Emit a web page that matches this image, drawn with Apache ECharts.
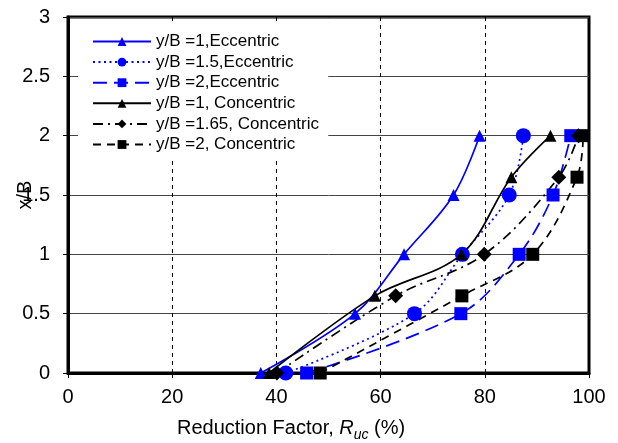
<!DOCTYPE html>
<html>
<head>
<meta charset="utf-8">
<script src="https://cdn.jsdelivr.net/npm/echarts@6/dist/echarts.min.js"></script>
<style>html,body{margin:0;padding:0;background:#fff}#c{width:618px;height:443px}</style>
</head>
<body>
<div id="c"></div>
<script>
const eccY = [0, 0.5, 1, 1.5, 2];
const ecc1X = [37, 55.1, 64.5, 74, 79];
const ecc15X = [41.8, 66.5, 75.7, 84.7, 87.4];
const ecc2X = [45.8, 75.4, 86.6, 93.1, 96.5];
const conY = [0, 0.65, 1, 1.65, 2];
const con1X = [38.6, 58.9, 75.5, 85.1, 92.6];
const con165X = [40.1, 62.9, 79.9, 94.2, 98];
const con2X = [48.4, 75.6, 89.2, 97.7, 98.9];
const xTicks = [0, 20, 40, 60, 80, 100];
const yTicks = [0, 0.5, 1, 1.5, 2, 2.5, 3];
const names = ['y/B =1,Eccentric', 'y/B =1.5,Eccentric', 'y/B =2,Eccentric',
  'y/B =1, Concentric', 'y/B =1.65, Concentric', 'y/B =2, Concentric'];

const pairs = (xs, ys) => xs.map((x, i) => [x, ys[i]]);
const FONT = 'Liberation Sans, Arial, sans-serif';

function mk(name, data, color, symbol, size, dash) {
  return {
    name, type: 'line', data, smooth: 0.35,
    symbol, symbolSize: size,
    itemStyle: { color },
    lineStyle: { color, width: 1.7, type: dash },
    emphasis: { disabled: true }, animation: false, z: 3
  };
}

const chart = echarts.init(document.getElementById('c'));
chart.setOption({
  animation: false,
  grid: { left: 68, right: 29, top: 17, bottom: 70, show: true, borderColor: '#000', borderWidth: 3,
    containLabel: false, outerBoundsMode: 'none' },
  legend: {
    orient: 'vertical', left: 78, top: 25,
    padding: [8, 9, 5, 14],
    backgroundColor: '#fff',
    itemWidth: 58, itemHeight: 11, itemGap: 3.6,
    textStyle: { fontFamily: FONT, fontSize: 17, color: '#000' },
    data: names, z: 2
  },
  xAxis: {
    type: 'value', min: 0, max: 100, interval: 20,
    axisLine: { show: true, lineStyle: { color: '#000', width: 3 } },
    axisTick: { show: true, inside: false, length: 5, lineStyle: { color: '#000' } },
    axisLabel: { margin: 14, fontFamily: FONT, fontSize: 20, color: '#000',
      formatter: v => xTicks.includes(v) ? String(v) : '' },
    splitLine: { show: true, lineStyle: { color: '#000', type: [4, 4], width: 1 } }
  },
  yAxis: {
    type: 'value', min: 0, max: 3, interval: 0.5,
    name: 'x/B', nameLocation: 'middle', nameGap: 33, nameRotate: 90, nameMoveOverlap: false,
    nameTextStyle: { fontFamily: FONT, fontSize: 20, color: '#000' },
    axisLine: { show: true, lineStyle: { color: '#000', width: 3 } },
    axisTick: { show: true, inside: false, length: 5, lineStyle: { color: '#000' } },
    axisLabel: { margin: 18, fontFamily: FONT, fontSize: 20, color: '#000',
      formatter: v => yTicks.includes(v) ? String(v) : '' },
    splitLine: { show: true, lineStyle: { color: '#444', width: 1 } }
  },
  graphic: [{
    type: 'text', left: 177, top: 418, z: 10,
    style: {
      text: '{a|Reduction Factor, }{r|R}{s|uc}{a| (%)}',
      rich: {
        a: { fontFamily: FONT, fontSize: 20, fill: '#000', verticalAlign: 'bottom' },
        r: { fontFamily: FONT, fontSize: 20, fontStyle: 'italic', fill: '#000', verticalAlign: 'bottom' },
        s: { fontFamily: FONT, fontSize: 14, fontStyle: 'italic', fill: '#000', verticalAlign: 'bottom', padding: [0, 0, -4, 0] }
      }
    }
  }],
  series: [
    mk(names[0], pairs(ecc1X, eccY), '#0000ff', 'triangle', 12, 'solid'),
    mk(names[1], pairs(ecc15X, eccY), '#0000ff', 'circle', 15, [2, 3.5]),
    mk(names[2], pairs(ecc2X, eccY), '#0000ff', 'rect', 13, [14, 7]),
    mk(names[3], pairs(con1X, conY), '#000000', 'triangle', 12, 'solid'),
    mk(names[4], pairs(con165X, conY), '#000000', 'diamond', 15, [10, 5, 2, 5]),
    mk(names[5], pairs(con2X, conY), '#000000', 'rect', 13, [8, 6])
  ]
});
</script>
</body>
</html>
